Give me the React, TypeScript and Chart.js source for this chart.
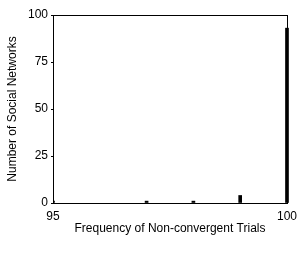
import React, { useEffect, useRef } from "react";
import { Chart, registerables } from "chart.js";

Chart.register(...registerables);

const frequencies = [95, 97, 98, 99, 100];
const networkCounts = [1, 1, 1, 4, 93];
const yTicks = [0, 25, 50, 75, 100];
const xTicks = [95, 100];
const xTitle = "Frequency of Non-convergent Trials";
const yTitle = "Number of Social Networks";

const FONT = "'Liberation Sans', Arial, sans-serif";

const boxPlugin = {
  id: "boxPlugin",
  afterDatasetsDraw(chart: any) {
    const { ctx, chartArea } = chart;
    ctx.save();
    ctx.strokeStyle = "#000";
    ctx.lineWidth = 1;
    ctx.strokeRect(
      Math.round(chartArea.left) + 0.5,
      Math.round(chartArea.top) + 0.5,
      Math.round(chartArea.right - chartArea.left),
      Math.round(chartArea.bottom - chartArea.top)
    );
    ctx.restore();
  },
};

export default function App() {
  const ref = useRef<HTMLCanvasElement>(null);
  useEffect(() => {
    document.body.style.margin = "0";
    const chart = new Chart(ref.current!, {
      type: "bar",
      data: {
        datasets: [
          {
            data: frequencies.map((f, i) => ({ x: f, y: networkCounts[i] })),
            backgroundColor: "#000",
            borderWidth: 0,
            barThickness: 3,
            clip: { left: 0, top: 0, right: 2, bottom: 0 },
          } as any,
        ],
      },
      options: {
        animation: false,
        responsive: true,
        maintainAspectRatio: false,
        layout: { padding: { left: 0, right: 16, top: 15, bottom: 20 } },
        plugins: { legend: { display: false }, tooltip: { enabled: false } },
        scales: {
          x: {
            type: "linear",
            min: 95,
            max: 100,
            offset: false,
            afterBuildTicks: (s: any) => {
              s.ticks = xTicks.map((v) => ({ value: v }));
            },
            afterFit: (s: any) => {
              s.height = 33;
            },
            grid: { display: false, drawTicks: false, offset: false },
            border: { display: true, color: "#000", width: 1 },
            ticks: {
              color: "#000",
              font: { family: FONT, size: 12 },
              padding: 6,
              maxRotation: 0,
              autoSkip: false,
            },
            title: {
              display: true,
              text: xTitle,
              color: "#000",
              font: { family: FONT, size: 12 },
              padding: { top: 0, bottom: 0 },
            },
          },
          y: {
            min: 0,
            max: 100,
            afterBuildTicks: (s: any) => {
              s.ticks = yTicks.map((v) => ({ value: v }));
            },
            afterFit: (s: any) => {
              s.width = 53;
            },
            grid: {
              display: true,
              drawOnChartArea: false,
              drawTicks: true,
              tickLength: 2,
              color: "#000",
            },
            border: { display: true, color: "#000", width: 1 },
            ticks: {
              color: "#000",
              font: { family: FONT, size: 12 },
              padding: 3,
            },
            title: {
              display: true,
              text: yTitle,
              color: "#000",
              font: { family: FONT, size: 12 },
              padding: { top: 5, bottom: 0 },
            },
          },
        },
      },
      plugins: [boxPlugin],
    });
    return () => chart.destroy();
  }, []);
  return (
    <div style={{ width: 303, height: 256, position: "relative" }}>
      <canvas ref={ref} />
    </div>
  );
}
